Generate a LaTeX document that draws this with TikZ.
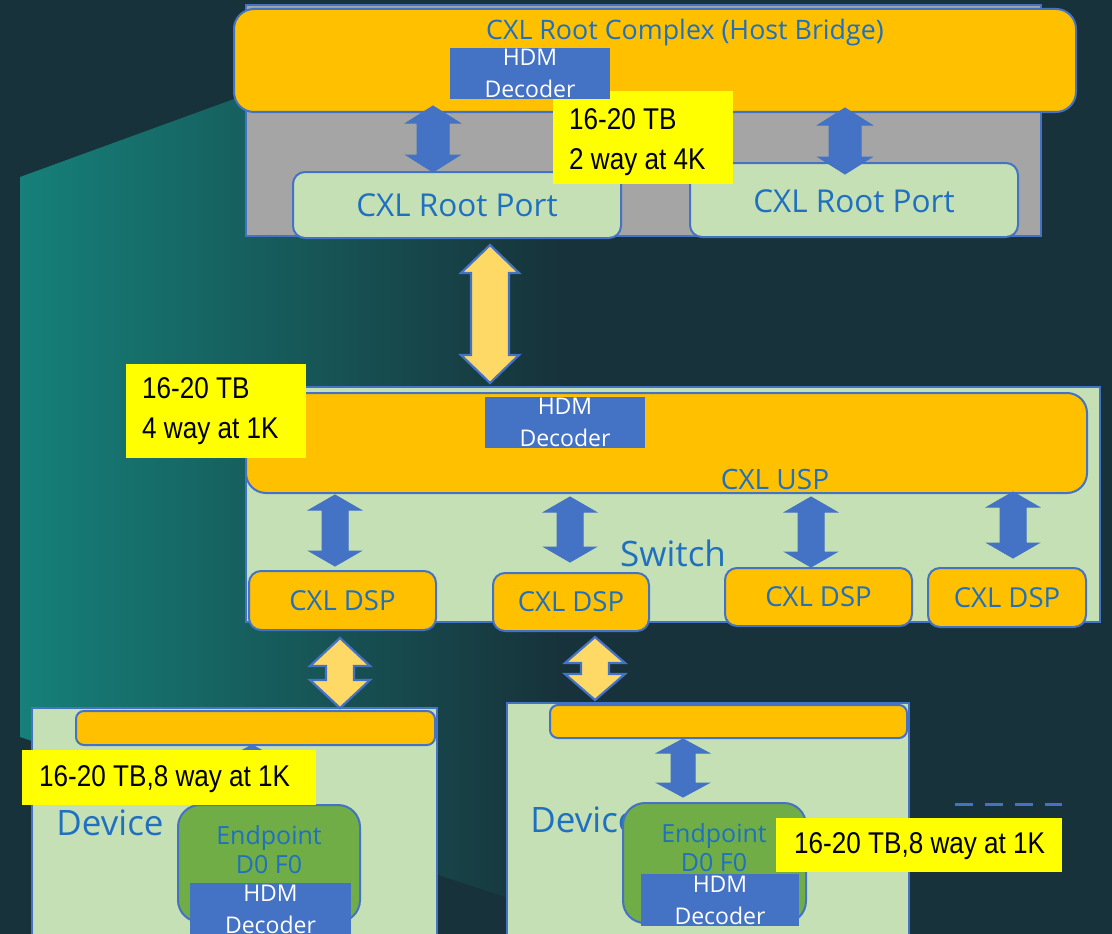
\documentclass[tikz,border=0pt]{standalone}
\usepackage{fontspec}
\setmainfont{Open Sans}
\newfontfamily\narrowfont[FakeStretch=0.87]{Liberation Sans}
\usetikzlibrary{calc}

\definecolor{bgdark}{HTML}{17323A}
\definecolor{tealglow}{HTML}{168079}
\definecolor{cxlorange}{HTML}{FFC000}
\definecolor{hdmblue}{HTML}{4472C4}
\definecolor{lightgreen}{HTML}{C5E0B4}
\definecolor{framegray}{HTML}{A5A5A5}
\definecolor{noteyellow}{HTML}{FFFF00}
\definecolor{arrowyellow}{HTML}{FFD966}
\definecolor{epgreen}{HTML}{70AD47}
\definecolor{txtblue}{HTML}{1F70C0}

% double-headed block arrow between two named points (top, bottom)
% #1 style, #2 top, #3 bottom, #4 shaft half-width, #5 head half-width, #6 head length
\newcommand{\fatarrow}[6]{%
  \path[#1] let \p1=(#2), \p2=(#3) in
    (\x1,\y1) -- (\x1+#5pt,\y1-#6pt) -- (\x1+#4pt,\y1-#6pt) -- (\x1+#4pt,\y2+#6pt)
    -- (\x1+#5pt,\y2+#6pt) -- (\x1,\y2) -- (\x1-#5pt,\y2+#6pt) -- (\x1-#4pt,\y2+#6pt)
    -- (\x1-#4pt,\y1-#6pt) -- (\x1-#5pt,\y1-#6pt) -- cycle;}

\begin{document}
\begin{tikzpicture}[x=1pt,y=-1pt,
  box/.style={anchor=north west, inner sep=0pt, outer sep=0pt, line width=2pt, draw=hdmblue},
  orangebox/.style={box, fill=cxlorange, rounded corners=20pt},
  greenbox/.style={box, fill=lightgreen},
  portbox/.style={box, fill=lightgreen, rounded corners=12pt},
  dspbox/.style={box, fill=cxlorange, rounded corners=12pt},
  barbox/.style={box, fill=cxlorange, rounded corners=8pt},
  epbox/.style={box, fill=epgreen, rounded corners=22pt},
  decoderbox/.style={anchor=north west, inner sep=0pt, outer sep=0pt, fill=hdmblue},
  notebox/.style={anchor=north west, inner sep=0pt, outer sep=0pt, fill=noteyellow},
  ttl/.style={text=txtblue, inner sep=0pt},
  dectext/.style={text=white, align=center, inner sep=0pt, font=\fontsize{23}{32}\selectfont},
  notetext/.style={anchor=west, align=left, inner sep=0pt, font=\narrowfont\fontsize{30}{40}\selectfont},
  bluearrow/.style={fill=hdmblue, draw=hdmblue, line width=1pt, line join=miter},
  yelarrow/.style={fill=arrowyellow, draw=hdmblue, line width=2.2pt, line join=miter}
]
\useasboundingbox (0,0) rectangle (1112,934);
\clip (0,0) rectangle (1112,934);

% backdrop
\fill[bgdark] (0,0) rectangle (1112,934);
\shade[left color=tealglow, right color=bgdark]
  (20,177) -- (234,99) -- (560,99) -- (560,915) -- (20,737) -- cycle;

% ---------- root complex ----------
\node[box, fill=framegray, minimum width=795pt, minimum height=231pt] (rcframe) at (246,5) {};
\node[orangebox, minimum width=842pt, minimum height=103pt] (rc) at (234,9) {};
\node[portbox, minimum width=328pt, minimum height=66pt] (rp1) at (293,172) {};
\node[portbox, minimum width=328pt, minimum height=74pt] (rp2) at (690,163) {};
\node[ttl, font=\fontsize{31.5}{34}\selectfont] at (rp1.center) {CXL Root Port};
\node[ttl, font=\fontsize{31.5}{34}\selectfont] at ([yshift=-1pt]rp2.center) {CXL Root Port};

\coordinate (a1t) at (433,106); \coordinate (a1b) at (433,172);
\coordinate (a2t) at (845,108); \coordinate (a2b) at (845,174);
\fatarrow{bluearrow}{a1t}{a1b}{16}{27}{17}
\fatarrow{bluearrow}{a2t}{a2b}{16}{27}{17}

\node[notebox, minimum width=180pt, minimum height=93pt] (lab1) at (553,91) {};
\node[notetext] at (569,142) {16-20 TB\\2 way at 4K};

\node[decoderbox, minimum width=160pt, minimum height=51pt] (rcdec) at (450,48) {};
\node[dectext] at (rcdec.center) {HDM\\Decoder};
\node[ttl, font=\fontsize{26.8}{30}\selectfont] (rctitle) at (685,33) {CXL Root Complex (Host Bridge)};

% link root port -> switch
\coordinate (a3t) at (490,245); \coordinate (a3b) at (490,383);
\fatarrow{yelarrow}{a3t}{a3b}{19}{29}{28}

% ---------- switch ----------
\node[greenbox, minimum width=854pt, minimum height=235pt] (sw) at (246,387) {};
\node[orangebox, minimum width=841pt, minimum height=100pt] (usp) at (246,393) {};
\node[ttl, font=\fontsize{28}{30}\selectfont] at (775,479) {CXL USP};
\node[decoderbox, minimum width=160pt, minimum height=51pt] (swdec) at (485,397) {};
\node[dectext] at (swdec.center) {HDM\\Decoder};
\node[notebox, minimum width=180pt, minimum height=94pt] (lab2) at (126,364) {};
\node[notetext] at (142,411) {16-20 TB\\4 way at 1K};
\node[ttl, font=\fontsize{35}{38}\selectfont] at (673,553) {Switch};

\coordinate (s1t) at (335,495);  \coordinate (s1b) at (335,566);
\coordinate (s2t) at (570,497);  \coordinate (s2b) at (570,562);
\coordinate (s3t) at (811,497);  \coordinate (s3b) at (811,567);
\coordinate (s4t) at (1013,492); \coordinate (s4b) at (1013,558);
\fatarrow{bluearrow}{s1t}{s1b}{13}{26}{15}
\fatarrow{bluearrow}{s2t}{s2b}{13}{26}{15}
\fatarrow{bluearrow}{s3t}{s3b}{13}{26}{15}
\fatarrow{bluearrow}{s4t}{s4b}{13}{26}{15}

\node[dspbox, minimum width=187pt, minimum height=59pt] (dsp1) at (249,571) {};
\node[dspbox, minimum width=156pt, minimum height=58pt] (dsp2) at (493,573) {};
\node[dspbox, minimum width=187pt, minimum height=58pt] (dsp3) at (725,568) {};
\node[dspbox, minimum width=158pt, minimum height=59pt] (dsp4) at (928,568) {};
\foreach \d in {dsp1,dsp2,dsp3,dsp4}
  \node[ttl, font=\fontsize{27.5}{30}\selectfont] at (\d.center) {CXL DSP};

% ---------- devices ----------
\node[greenbox, minimum width=405pt, minimum height=260pt] (dev1) at (32,708) {};
\node[greenbox, minimum width=402pt, minimum height=260pt] (dev2) at (507,703) {};
\node[barbox, minimum width=359pt, minimum height=34pt] (bar1) at (76,711) {};
\node[barbox, minimum width=357pt, minimum height=33pt] (bar2) at (550,705) {};

\coordinate (l1t) at (340,638); \coordinate (l1b) at (340,708);
\coordinate (l2t) at (595,637); \coordinate (l2b) at (595,700);
\fatarrow{yelarrow}{l1t}{l1b}{14}{30}{28}
\fatarrow{yelarrow}{l2t}{l2b}{14}{30}{26}

\coordinate (d1t) at (252,745); \coordinate (d1b) at (252,805);
\coordinate (d2t) at (683,739); \coordinate (d2b) at (683,797);
\fatarrow{bluearrow}{d1t}{d1b}{12}{26}{14}
\fatarrow{bluearrow}{d2t}{d2b}{12}{26}{14}

\node[ttl, font=\fontsize{35}{38}\selectfont] at (110,823) {Device};
\node[ttl, font=\fontsize{35}{38}\selectfont] at (584,820) {Device};

\node[epbox, minimum width=182pt, minimum height=117pt] (ep1) at (178,805) {};
\node[epbox, minimum width=183pt, minimum height=120pt] (ep2) at (623,803) {};
\node[ttl, align=center, font=\fontsize{25}{29}\selectfont] at (269,850) {Endpoint\\D0 F0};
\node[ttl, align=center, font=\fontsize{25}{29}\selectfont] at (714,848) {Endpoint\\D0 F0};

\node[decoderbox, minimum width=161pt, minimum height=52pt] (dec1) at (190,883) {};
\node[dectext] at (dec1.center) {HDM\\Decoder};
\node[decoderbox, minimum width=158pt, minimum height=52pt] (dec2) at (641,874) {};
\node[dectext] at (dec2.center) {HDM\\Decoder};

\node[notebox, minimum width=294pt, minimum height=55pt] (lab3) at (22,750) {};
\node[notetext] at (39,779) {16-20 TB,8 way at 1K};
\node[notebox, minimum width=286pt, minimum height=54pt] (lab4) at (776,818) {};
\node[notetext] at (794,846) {16-20 TB,8 way at 1K};

% more devices follow
\coordinate (dotsl) at (955,804); \coordinate (dotsr) at (1062,804);
\draw[hdmblue, line width=3pt, dash pattern=on 18pt off 12pt] (dotsl) -- (dotsr);
\end{tikzpicture}
\end{document}
